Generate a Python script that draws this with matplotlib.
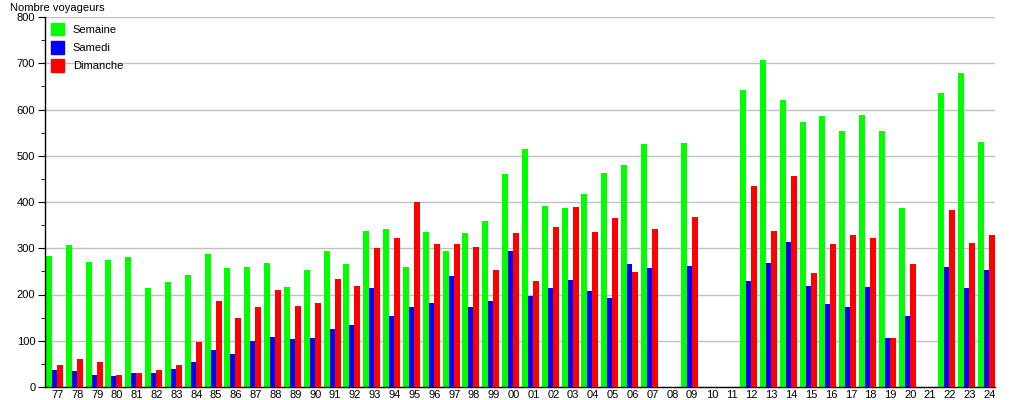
import numpy as np
import matplotlib
matplotlib.use("Agg")
import matplotlib.pyplot as plt
from matplotlib.patches import Patch
from matplotlib.ticker import MultipleLocator

plt.rcParams['font.family'] = ['Liberation Sans', 'DejaVu Sans']

# années (deux chiffres), 1977 -> 2024
annees = [f"{a % 100:02d}" for a in range(1977, 2025)]

nan = np.nan
semaine = [284, 308, 271, 275, 282, 213, 226, 243, 288, 257, 259, 269, 217, 252, 295,
           267, 338, 342, 260, 336, 293, 332, 360, 461, 515, 392, 386, 418, 463, 481,
           526, nan, 528, nan, nan, 643, 706, 621, 574, 587, 554, 589, 554, 386, nan,
           636, 680, 530]
samedi = [36, 34, 27, 24, 31, 31, 40, 55, 81, 72, 100, 109, 104, 107, 126,
          133, 213, 154, 174, 182, 239, 172, 187, 293, 197, 213, 232, 208, 193, 265,
          258, nan, 262, nan, nan, 230, 269, 314, 219, 180, 172, 217, 107, 154, nan,
          260, 215, 254]
dimanche = [48, 61, 53, 27, 31, 37, 48, 98, 187, 150, 174, 210, 176, 182, 234,
            219, 301, 323, 401, 310, 310, 303, 254, 334, 230, 347, 390, 336, 366, 249,
            342, nan, 368, nan, nan, 435, 338, 457, 247, 310, 329, 323, 107, 265, nan,
            383, 312, 329]

x = np.arange(len(annees))

fig = plt.figure(figsize=(10.15, 4.0), dpi=100)
ax = fig.add_axes([45 / 1015, 13 / 400, 950 / 1015, 370 / 400])

ax.bar(x - 0.43, semaine, width=0.30, color='#00ff00', zorder=2)
ax.bar(x - 0.155, samedi, width=0.25, color='#0000ff', zorder=3)
ax.bar(x + 0.12, dimanche, width=0.30, color='#ff0000', zorder=4)

ax.set_xlim(-0.63, 47.27)
ax.set_ylim(0, 800)
ax.yaxis.set_major_locator(MultipleLocator(100))
ax.yaxis.set_minor_locator(MultipleLocator(50))
ax.grid(axis='y', which='major', color='#c0c0c0', linewidth=1.0, zorder=0)
ax.set_axisbelow(True)

ax.set_xticks(x)
ax.set_xticklabels(annees)
ax.tick_params(axis='x', length=0, pad=2, labelsize=8)
ax.tick_params(axis='y', which='major', length=5, labelsize=8, pad=2)
ax.tick_params(axis='y', which='minor', length=3)

for s in ['top', 'right']:
    ax.spines[s].set_visible(False)
ax.spines['left'].set_linewidth(1.0)
ax.spines['bottom'].set_linewidth(1.0)

fig.text(10 / 1015, 1 - 3 / 400, "Nombre voyageurs", fontsize=8, va='top', ha='left')

handles = [Patch(color='#00ff00', label='Semaine'),
           Patch(color='#0000ff', label='Samedi'),
           Patch(color='#ff0000', label='Dimanche')]
ax.legend(handles=handles, loc='upper left', frameon=False, fontsize=8,
          handlelength=1.2, handleheight=1.4, handletextpad=0.8,
          labelspacing=0.5, borderaxespad=0.3, borderpad=0.2)

fig.savefig("out.png", dpi=100)
